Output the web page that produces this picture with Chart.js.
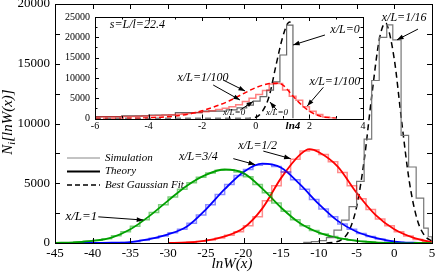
<!DOCTYPE html>
<html>
<head>
<meta charset="utf-8">
<script src="https://cdn.jsdelivr.net/npm/chart.js@4.4.1/dist/chart.umd.min.js"></script>
<style>
  html, body { margin: 0; padding: 0; background: #fff; }
  #wrap { position: relative; width: 436px; height: 273px; }
  #main { position: absolute; left: 0; top: 0; }
  #inset { position: absolute; left: 60px; top: 10px; }
</style>
</head>
<body>
<div id="wrap">
  <canvas id="main" width="436" height="273"></canvas>
  <canvas id="inset" width="312" height="128"></canvas>
</div>
<script>
// ---- main panel: theory curves (lnW, N) ----
const gridX = [-45,-42.5,-40,-37.5,-35,-32.5,-30,-27.5,-25,-22.5,-20,-17.5,-15,-12.5,-10,-7.5,-5,-2.5,0,2.5,5];
const greenTheory = [10,60,170,450,1150,2250,3550,4800,5700,6150,5850,4550,2950,1650,870,430,180,60,15,0,0];
const blueTheory  = [0,0,5,20,80,330,720,1380,2800,4500,5950,6640,6300,4900,3250,1850,940,420,120,20,0];
const redX        = [-30,-27.5,-25,-22.5,-20,-17.5,-15,-12.5,-11.25,-10,-7.5,-5,-2.5,0,2.5,5];
const redTheory   = [10,40,200,550,1250,2900,5450,7400,7850,7600,6400,4200,2350,1150,450,60];

// ---- main panel: simulation histograms (bin start, bin width, counts) ----
const greenBinStart = -42.5, greenBinW = 1.25;
const greenSim = [85,140,230,360,600,950,1400,1950,2550,3200,3850,4500,5050,5500,5850,6080,
                  6120,5950,5550,4900,4200,3350,2650,1950,1450,1050,760,540,360,240,150,80];
const blueBinStart = -37.5, blueBinW = 1.25;
const blueSim = [20,50,110,230,400,580,850,1150,1650,2350,3200,4050,4900,5650,6150,6500,
                 6600,6400,5950,5300,4500,3650,2850,2200,1600,1150,800,540,330,170,70,30];
const redBinStart = -27.5, redBinW = 1.25;
const redSim = [70,150,260,420,640,950,1450,2200,3540,4800,5950,7000,7700,7800,7400,6800,
                5900,4800,3700,2800,2000,1450,950,580,300,120];

// x/L = 1/16 : simulation histogram and Gaussian fit
const blackEdges = [-12,-11,-10,-9,-8,-7,-6,-5,-4,-3,-2,-1,-0.2,0.9,1.9,2.9,3.9,4.5,5];
const blackSim   = [60,120,200,450,1080,1920,3050,5150,8700,13600,17200,18250,17000,9000,6360,3750,1250,525];
const fitX = [-9,-8,-7,-6,-5,-4,-3,-2,-1.2,-1,0,1,2,3,4,5];
const fitY = [5,57,276,1030,3030,6900,12270,16990,18400,18300,15370,10050,5110,2040,630,150];

// ---- inset ----
const insetRedBinStart = -6, insetRedBinW = 0.25;
const insetRedSim = [400,420,440,460,480,520,560,620,680,760,840,930,1030,1150,1300,1480,
                     1680,1900,2200,2500,2900,3400,4200,5000,5900,6900,8500,8600,7000,5500,
                     4500,2900,1800,1000,400,100];
const insetRedFitX = [-6,-5,-4,-3,-2.5,-2,-1.5,-1,-0.5,0,0.5,0.75,1,1.25,1.5,2,2.5,3];
const insetRedFitY = [0,30,150,600,1100,1900,3000,4300,6000,7600,8600,8700,8300,6600,4700,1800,400,50];
const insetGreyEdges = [-6,-5,-4,-3,-2,-1.1,-0.7,-0.34,-0.09,0.16,0.41,0.66,0.9,1.15,1.386];
const insetGreySim   = [440,650,860,1430,1800,2100,2600,3300,4300,5370,7000,9000,15640,23000];
const insetBlackFitX = [-6,-0.5,0,0.25,0.5,0.75,1,1.2,1.3];
const insetBlackFitY = [0,0,300,1800,5500,13000,20000,23500,23800];

const LN4 = Math.log(4);

// annotations (data coordinates)
const mainNotes = [
  { text: 'x/L=1/16', x: 1.3,    y: 18830, size: 12 },
  { text: 'x/L=1/2',  x: -18.14, y: 8170,  size: 12 },
  { text: 'x/L=3/4',  x: -26.0,  y: 7190,  size: 12 },
  { text: 'x/L=1',    x: -41.5,  y: 2250,  size: 13 }
];
const mainArrows = [
  [3.14, 17900, 0.36, 17000],
  [-17.37, 7690, -13.74, 7060],
  [-21.35, 7060, -18.47, 6560],
  [-39.26, 2190, -33.29, 1920]
];
const insetNotes = [
  { text: 's=L/l=22.4', x: -4.42, y: 23000, size: 12 },
  { text: 'x/L=0',      x: 3.33,  y: 21800, size: 12 },
  { text: 'x/L=1/100',  x: 2.95,  y: 9000,  size: 12 },
  { text: 'x/L=1/100',  x: -1.97, y: 9970,  size: 12 },
  { text: 'x/L=0',      x: -0.81, y: 1350,  size: 9 },
  { text: 'x/L=0',      x: 0.79,  y: 1350,  size: 9 }
];
const insetArrows = [
  [2.58, 20570, 1.39, 18100],
  [2.52, 7680, 1.92, 3080],
  [-1.22, 9480, -0.40, 6770],
  [-1.59, 8250, -0.59, 4560],
  [-0.58, 2100, -0.10, 4200],
  [0.78, 2100, 0.53, 4050]
];

function zipXY(xs, ys) { return xs.map((x, i) => ({ x: x, y: ys[i] })); }
function histRegular(start, w, vals) {
  const pts = [{ x: start, y: 0 }];
  vals.forEach((v, i) => pts.push({ x: start + i * w, y: v }));
  pts.push({ x: start + vals.length * w, y: 0 });
  return pts;
}
function histEdges(edges, vals) {
  const pts = [{ x: edges[0], y: 0 }];
  vals.forEach((v, i) => pts.push({ x: edges[i], y: v }));
  pts.push({ x: edges[edges.length - 1], y: 0 });
  return pts;
}
// 'before' in Chart.js: go horizontally at the previous value, then vertically
function stepSet(data, color, width) {
  return { data: data, borderColor: color, borderWidth: width, stepped: 'before', pointRadius: 0, fill: false };
}
function curveSet(data, color, width, dash) {
  return { data: data, borderColor: color, borderWidth: width, borderDash: dash || [],
           cubicInterpolationMode: 'monotone', pointRadius: 0, fill: false };
}

function drawArrow(ctx, x1, y1, x2, y2) {
  ctx.beginPath(); ctx.moveTo(x1, y1); ctx.lineTo(x2, y2); ctx.stroke();
  const a = Math.atan2(y2 - y1, x2 - x1), L = 7, w = 0.35;
  ctx.beginPath();
  ctx.moveTo(x2, y2);
  ctx.lineTo(x2 - L * Math.cos(a - w), y2 - L * Math.sin(a - w));
  ctx.lineTo(x2 - L * Math.cos(a + w), y2 - L * Math.sin(a + w));
  ctx.closePath(); ctx.fill();
}

function drawFrameTicks(chart, xMajor, xMinor, yMajor, yMinor, lenMaj, lenMin) {
  const ctx = chart.ctx, a = chart.chartArea, sx = chart.scales.x, sy = chart.scales.y;
  ctx.save();
  ctx.strokeStyle = '#000'; ctx.lineWidth = 1;
  ctx.strokeRect(Math.round(a.left) + 0.5, Math.round(a.top) + 0.5, Math.round(a.right - a.left), Math.round(a.bottom - a.top));
  ctx.beginPath();
  const tick = (step, len, isX) => {
    const s = isX ? sx : sy;
    if (!step) return;
    for (let v = Math.ceil(s.min / step) * step; v <= s.max + 1e-9; v += step) {
      const p = Math.round(s.getPixelForValue(v)) + 0.5;
      if (isX) {
        ctx.moveTo(p, a.bottom); ctx.lineTo(p, a.bottom - len);
        ctx.moveTo(p, a.top); ctx.lineTo(p, a.top + len);
      } else {
        ctx.moveTo(a.left, p); ctx.lineTo(a.left + len, p);
        ctx.moveTo(a.right, p); ctx.lineTo(a.right - len, p);
      }
    }
  };
  tick(xMajor, lenMaj, true); tick(xMinor, lenMin, true);
  tick(yMajor, lenMaj, false); tick(yMinor, lenMin, false);
  ctx.stroke();
  ctx.restore();
}

function drawNotes(chart, notes, arrows) {
  const ctx = chart.ctx, sx = chart.scales.x, sy = chart.scales.y;
  ctx.save();
  ctx.fillStyle = '#000'; ctx.strokeStyle = '#000'; ctx.lineWidth = 1;
  ctx.textAlign = 'center'; ctx.textBaseline = 'middle';
  notes.forEach(n => {
    ctx.font = 'italic ' + n.size + 'px "Liberation Serif"';
    ctx.fillText(n.text, sx.getPixelForValue(n.x), sy.getPixelForValue(n.y));
  });
  arrows.forEach(r => drawArrow(ctx, sx.getPixelForValue(r[0]), sy.getPixelForValue(r[1]),
                                sx.getPixelForValue(r[2]), sy.getPixelForValue(r[3])));
  ctx.restore();
}

const mainDecor = {
  id: 'mainDecor',
  afterDraw(chart) {
    drawFrameTicks(chart, 5, 0, 5000, 2500, 5, 5);
    drawNotes(chart, mainNotes, mainArrows);
    const ctx = chart.ctx;
    ctx.save();
    // legend
    const rows = [['Simulation', '#888', 1, []], ['Theory', '#000', 2, []], ['Best Gaussian Fit', '#000', 1.5, [5, 3]]];
    rows.forEach((r, i) => {
      const y = 158 + i * 13.5;
      ctx.strokeStyle = r[1]; ctx.lineWidth = r[2]; ctx.setLineDash(r[3]);
      ctx.beginPath(); ctx.moveTo(67, y); ctx.lineTo(100, y); ctx.stroke();
      ctx.setLineDash([]);
      ctx.fillStyle = '#000'; ctx.font = 'italic 11px "Liberation Serif"';
      ctx.textAlign = 'left'; ctx.textBaseline = 'middle';
      ctx.fillText(r[0], 105, y);
    });
    // x title
    ctx.font = 'italic 15px "Liberation Serif"';
    ctx.textAlign = 'center'; ctx.textBaseline = 'middle';
    ctx.fillText('lnW(x)', 232, 264);
    // y title N_i[lnW(x)]
    ctx.translate(8, 122); ctx.rotate(-Math.PI / 2);
    ctx.textAlign = 'left';
    const f1 = 'italic 15px "Liberation Serif"', f2 = 'italic 10px "Liberation Serif"';
    ctx.font = f1; const wN = ctx.measureText('N').width, wR = ctx.measureText('[lnW(x)]').width;
    ctx.font = f2; const wi = ctx.measureText('i').width;
    let x0 = -(wN + wi + wR) / 2;
    ctx.font = f1; ctx.fillText('N', x0, 0);
    ctx.font = f2; ctx.fillText('i', x0 + wN, 4);
    ctx.font = f1; ctx.fillText('[lnW(x)]', x0 + wN + wi, 0);
    ctx.restore();
  }
};

const insetDecor = {
  id: 'insetDecor',
  afterDraw(chart) {
    drawFrameTicks(chart, 2, 1, 5000, 2500, 4, 2.5);
    drawNotes(chart, insetNotes, insetArrows);
    const ctx = chart.ctx, a = chart.chartArea;
    ctx.save();
    ctx.fillStyle = '#000';
    ctx.font = 'bold italic 11px "Liberation Serif"';
    ctx.textAlign = 'center'; ctx.textBaseline = 'middle';
    ctx.fillText('ln4', chart.scales.x.getPixelForValue(LN4), a.bottom + 8);
    ctx.restore();
  }
};

function axisOpts(min, max, step, size, pad, fitSize, isX) {
  return {
    type: 'linear', min: min, max: max,
    grid: { display: false, drawTicks: false },
    border: { display: false },
    ticks: { stepSize: step, color: '#000', padding: pad, font: { family: 'Liberation Serif', size: size },
             callback: v => String(v) },
    afterFit(s) {
      if (isX) { s.height = fitSize; s.paddingLeft = 0; s.paddingRight = 0; }
      else { s.width = fitSize; s.paddingTop = 0; s.paddingBottom = 0; }
    }
  };
}

Chart.defaults.animation = false;

new Chart(document.getElementById('main'), {
  type: 'line',
  data: {
    datasets: [
      stepSet(histRegular(greenBinStart, greenBinW, greenSim), 'rgba(0,160,0,0.5)', 1.5),
      stepSet(histRegular(blueBinStart, blueBinW, blueSim), 'rgba(0,0,255,0.45)', 1.5),
      stepSet(histRegular(redBinStart, redBinW, redSim), 'rgba(255,0,0,0.45)', 1.5),
      stepSet(histEdges(blackEdges, blackSim), '#777', 1.2),
      curveSet(zipXY(gridX, greenTheory), '#00a000', 1.8),
      curveSet(zipXY(gridX, blueTheory), '#0000ff', 1.8),
      curveSet(zipXY(redX, redTheory), '#ff0000', 1.8),
      curveSet(zipXY(fitX, fitY), '#000', 1.5, [6, 4])
    ]
  },
  options: {
    responsive: false,
    layout: { padding: { top: 4, right: 4, left: 0, bottom: 0 } },
    plugins: { legend: { display: false }, tooltip: { enabled: false } },
    scales: {
      x: axisOpts(-45, 5, 5, 13, 3, 30, true),
      y: axisOpts(0, 20000, 5000, 13, 5, 55, false)
    }
  },
  plugins: [mainDecor]
});

new Chart(document.getElementById('inset'), {
  type: 'line',
  data: {
    datasets: [
      stepSet(histRegular(insetRedBinStart, insetRedBinW, insetRedSim), 'rgba(255,0,0,0.5)', 1.5),
      curveSet(zipXY(insetRedFitX, insetRedFitY), '#ff0000', 1.5, [5, 3]),
      stepSet(histEdges(insetGreyEdges, insetGreySim), '#666', 1.2),
      curveSet(zipXY(insetBlackFitX, insetBlackFitY), '#000', 1.5, [6, 4])
    ]
  },
  options: {
    responsive: false,
    layout: { padding: { top: 7, right: 9, left: 0, bottom: 0 } },
    plugins: { legend: { display: false }, tooltip: { enabled: false } },
    scales: {
      x: axisOpts(-6, 4, 2, 10, 2, 19.5, true),
      y: axisOpts(0, 25000, 5000, 10, 5, 35, false)
    }
  },
  plugins: [insetDecor]
});
</script>
</body>
</html>
